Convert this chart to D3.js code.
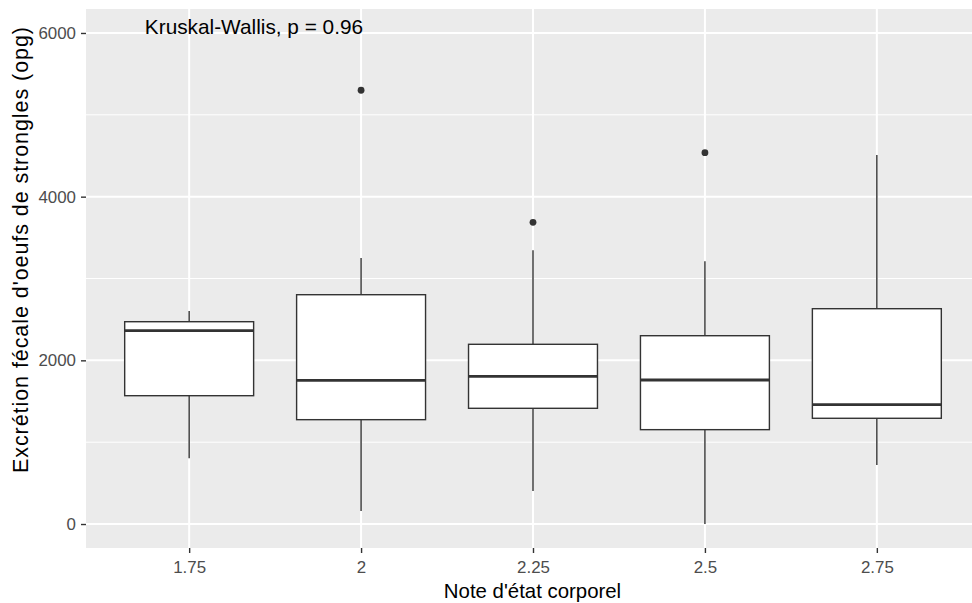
<!DOCTYPE html>
<html><head><meta charset="utf-8">
<script src="https://cdn.jsdelivr.net/npm/d3@7"></script>
<style>html,body{margin:0;padding:0;background:#fff;} svg{display:block;}</style>
</head><body>
<script>
const categories = ["1.75", "2", "2.25", "2.5", "2.75"];
const whiskerLow  = [803, 159, 403, 0, 721];
const q1          = [1568, 1275, 1414, 1153, 1292];
const medians     = [2362, 1756, 1805, 1760, 1458];
const q3          = [2472, 2802, 2196, 2301, 2631];
const whiskerHigh = [2603, 3250, 3345, 3210, 4509];
const outliers    = [[], [5300], [3687], [4538], []];
const yTicks = [0, 2000, 4000, 6000];
const yMinor = [1000, 3000, 5000];
const annotation = "Kruskal-Wallis, p = 0.96";
const annotationY = 6000;

const W = 972, H = 603;
const panel = {left: 86, top: 9, right: 980, bottom: 548};
const font = "'Liberation Sans', Arial, sans-serif";

const svg = d3.select("body").append("svg").attr("width", W).attr("height", H);

const x = d3.scalePoint().domain(categories).range([panel.left, panel.right]).padding(0.6);
const y = d3.scaleLinear().domain([-293, 6293]).range([panel.bottom, panel.top]);
const boxW = x.step() * 0.75;

svg.append("rect").attr("x", panel.left).attr("y", panel.top)
  .attr("width", panel.right - panel.left).attr("height", panel.bottom - panel.top)
  .attr("fill", "#EBEBEB");

const grid = svg.append("g");
grid.selectAll(".minor").data(yMinor).enter().append("line")
  .attr("x1", panel.left).attr("x2", panel.right)
  .attr("y1", d => y(d)).attr("y2", d => y(d))
  .attr("stroke", "#fff").attr("stroke-width", 1);
grid.selectAll(".major").data(yTicks).enter().append("line")
  .attr("x1", panel.left).attr("x2", panel.right)
  .attr("y1", d => y(d)).attr("y2", d => y(d))
  .attr("stroke", "#fff").attr("stroke-width", 2);
grid.selectAll(".vmajor").data(categories).enter().append("line")
  .attr("x1", d => x(d)).attr("x2", d => x(d))
  .attr("y1", panel.top).attr("y2", panel.bottom)
  .attr("stroke", "#fff").attr("stroke-width", 2);

const col = "#333333";
const g = svg.append("g");
categories.forEach((c, i) => {
  const cx = x(c);
  g.append("line").attr("x1", cx).attr("x2", cx)
    .attr("y1", y(q3[i])).attr("y2", y(whiskerHigh[i]))
    .attr("stroke", col).attr("stroke-width", 1.4);
  g.append("line").attr("x1", cx).attr("x2", cx)
    .attr("y1", y(q1[i])).attr("y2", y(whiskerLow[i]))
    .attr("stroke", col).attr("stroke-width", 1.4);
  g.append("rect").attr("x", cx - boxW / 2).attr("y", y(q3[i]))
    .attr("width", boxW).attr("height", y(q1[i]) - y(q3[i]))
    .attr("fill", "#fff").attr("stroke", col).attr("stroke-width", 1.4);
  g.append("line").attr("x1", cx - boxW / 2).attr("x2", cx + boxW / 2)
    .attr("y1", y(medians[i])).attr("y2", y(medians[i]))
    .attr("stroke", col).attr("stroke-width", 2.8);
  outliers[i].forEach(o => {
    g.append("circle").attr("cx", cx).attr("cy", y(o)).attr("r", 3.4).attr("fill", col);
  });
});

// axes
const yAxis = svg.append("g").attr("transform", `translate(${panel.left},0)`)
  .call(d3.axisLeft(y).tickValues(yTicks).tickSize(5).tickPadding(5).tickFormat(d3.format("d")));
const xAxis = svg.append("g").attr("transform", `translate(0,${panel.bottom})`)
  .call(d3.axisBottom(x).tickSize(5).tickPadding(4));
[yAxis, xAxis].forEach(a => {
  a.select(".domain").remove();
  a.selectAll(".tick line").attr("stroke", "#333333").attr("stroke-width", 1.4);
  a.selectAll(".tick text").attr("fill", "#4D4D4D").style("font-family", font).style("font-size", "16.9px");
});
xAxis.selectAll(".tick text").attr("dy", "0.95em");

svg.append("text").attr("x", x(categories[0]) - 44.3).attr("y", y(annotationY) + 1.5)
  .attr("text-anchor", "start").style("font-family", font).style("font-size", "20.8px")
  .attr("fill", "#000").text(annotation);

svg.append("text").attr("x", (panel.left + 980) / 2 - 0.5).attr("y", 598)
  .attr("text-anchor", "middle").style("font-family", font).style("font-size", "20.4px")
  .attr("fill", "#000").text("Note d'état corporel");

svg.append("text").attr("transform", "translate(28,250) rotate(-90)")
  .attr("text-anchor", "middle").style("font-family", font).style("font-size", "21.5px")
  .attr("textLength", 446).attr("lengthAdjust", "spacing")
  .attr("fill", "#000").text("Excrétion fécale d'oeufs de strongles (opg)");
</script>
</body></html>
